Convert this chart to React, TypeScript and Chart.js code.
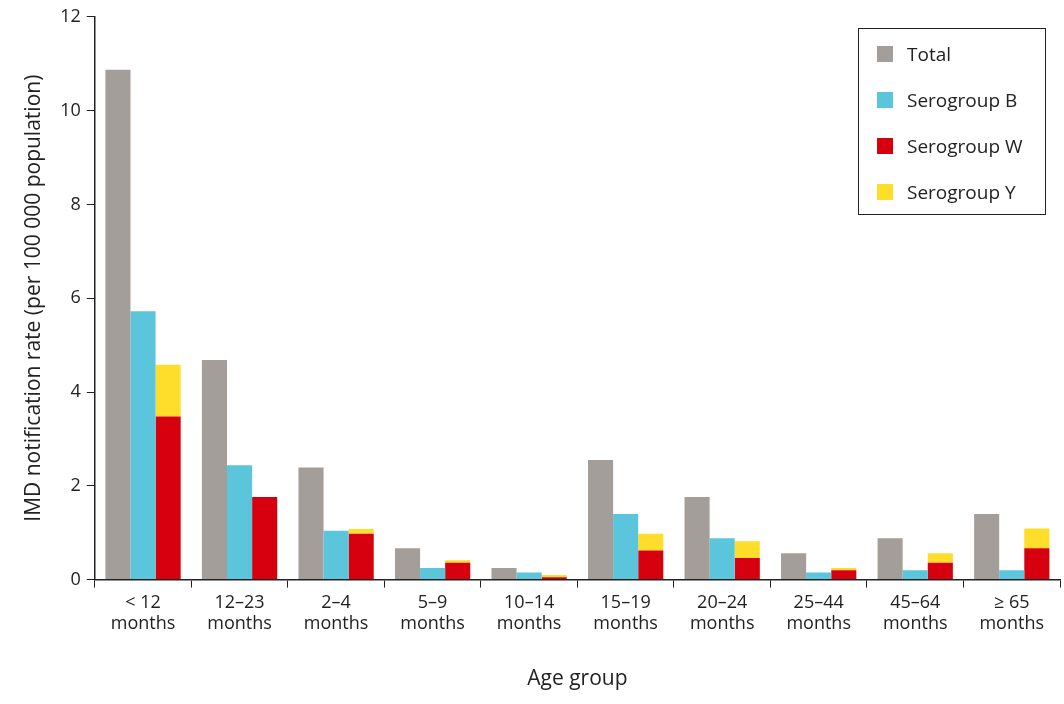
import React, { useEffect, useRef } from "react";
import { Chart, registerables } from "chart.js";
Chart.register(...registerables);

const categories = [["< 12", "months"], ["12–23", "months"], ["2–4", "months"], ["5–9", "months"], ["10–14", "months"], ["15–19", "months"], ["20–24", "months"], ["25–44", "months"], ["45–64", "months"], ["≥ 65", "months"]];
const total = [10.87, 4.68, 2.39, 0.67, 0.25, 2.55, 1.76, 0.56, 0.88, 1.4];
const serB = [5.72, 2.44, 1.04, 0.25, 0.15, 1.4, 0.88, 0.15, 0.2, 0.2];
const serW = [3.48, 1.76, 0.98, 0.36, 0.05, 0.62, 0.46, 0.2, 0.36, 0.67];
const serYextra = [1.1, 0, 0.1, 0.05, 0.05, 0.36, 0.36, 0.05, 0.2, 0.42];
const yTicks = [0, 2, 4, 6, 8, 10, 12];

const colors = { total: "#a39e99", b: "#5bc5dc", w: "#d7000f", y: "#fedd2b" };
const legendItems = [
  { label: "Total", color: colors.total },
  { label: "Serogroup B", color: colors.b },
  { label: "Serogroup W", color: colors.w },
  { label: "Serogroup Y", color: colors.y },
];
const FONT = "'Open Sans', sans-serif";

export default function App() {
  const ref = useRef<HTMLCanvasElement>(null);
  useEffect(() => {
    document.body.style.margin = "0";
    const chart = new Chart(ref.current!, {
      type: "bar",
      data: {
        labels: categories as any,
        datasets: [
          { label: "Total", data: total, backgroundColor: colors.total, stack: "t" },
          { label: "Serogroup B", data: serB, backgroundColor: colors.b, stack: "b" },
          { label: "Serogroup W", data: serW, backgroundColor: colors.w, stack: "w" },
          { label: "Serogroup Y", data: serYextra, backgroundColor: colors.y, stack: "w" },
        ],
      },
      options: {
        animation: false,
        responsive: false,
        layout: { padding: { top: -3, right: 4, left: 17, bottom: 8 } },
        datasets: { bar: { categoryPercentage: 0.78, barPercentage: 1 } },
        plugins: { legend: { display: false }, tooltip: { enabled: false } },
        scales: {
          x: {
            stacked: true,
            grid: { drawOnChartArea: false, tickLength: 8, color: "#222", offset: true },
            border: { color: "#222", width: 1.5 },
            ticks: { color: "#222", font: { family: FONT, size: 18 }, maxRotation: 0, autoSkip: false, padding: 4 },
            title: { display: true, text: "Age group", color: "#222", font: { family: FONT, size: 21 }, padding: { top: 28 } },
          },
          y: {
            stacked: true,
            min: 0,
            max: 12,
            afterBuildTicks: (s: any) => { s.ticks = yTicks.map((v) => ({ value: v })); },
            grid: { drawOnChartArea: false, tickLength: 8, color: "#222" },
            border: { color: "#222", width: 1.5 },
            ticks: { color: "#222", font: { family: FONT, size: 18 }, padding: 6 },
            title: { display: true, text: "IMD notification rate (per 100 000 population)", color: "#222", font: { family: FONT, size: 21 }, padding: { bottom: 8 } },
          },
        },
      },
    });
    return () => chart.destroy();
  }, []);
  return (
    <div style={{ position: "relative", width: 1064, height: 704, background: "#fff" }}>
      <canvas ref={ref} width={1064} height={704} />
      <div style={{ position: "absolute", left: 858, top: 28, width: 188, height: 187, border: "1.5px solid #222", boxSizing: "border-box", fontFamily: FONT, fontSize: 19, color: "#222" }}>
        {legendItems.map((it, i) => (
          <div key={i} style={{ position: "absolute", left: 18, top: 12 + i * 46, display: "flex", alignItems: "center", height: 26 }}>
            <span style={{ display: "inline-block", width: 16, height: 16, background: it.color, marginRight: 14 }} />
            {it.label}
          </div>
        ))}
      </div>
    </div>
  );
}
